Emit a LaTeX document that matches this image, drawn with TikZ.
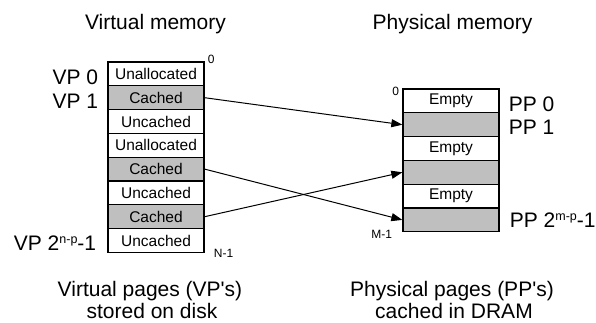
\documentclass[tikz,border=0pt]{standalone}
\usepackage{fontspec}
\setmainfont{Liberation Sans}
\usetikzlibrary{arrows.meta}
\newcommand\pgexp[1]{\raisebox{7pt}{\fontsize{12.5}{14}\selectfont #1}}

\begin{document}
\begin{tikzpicture}
	[%
	x=1pt, y=-1pt,%
	cell/.style  ={rectangle,	draw=black,	line width=1.3pt,	inner sep=0pt,	minimum width=96pt,	minimum height=23.8pt,	font=\fontsize{15.5}{18}\selectfont},%
	empty/.style ={cell,	fill=white},%
	full/.style  ={cell,	fill=black!25},%
	big/.style   ={inner sep=0pt,	font=\fontsize{21}{24}\selectfont},%
	small/.style ={inner sep=0pt,	font=\fontsize{12}{14}\selectfont},%
	map/.style   ={line width=1pt,	-{Triangle[length=11pt,width=8pt]}},%
	]

	\newcommand\vx{156}
	\newcommand\px{451}
	\newcommand\rh{23.8}

	\useasboundingbox (0,0) rectangle (596,322);

	% nodes
	\foreach \i/\t/\s in {0/Unallocated/empty, 1/Cached/full, 2/Uncached/empty, 3/Unallocated/empty, %
												4/Cached/full, 5/Uncached/empty, 6/Cached/full, 7/Uncached/empty}
		\node (v\i) at (\vx,62+\rh*\i+\rh/2) [\s] {\t};

	\foreach \i/\t/\s in {0/Empty/empty, 1//full, 2/Empty/empty, 3//full, 4/Empty/empty, 5//full}
		\node (p\i) at (\px,89+\rh*\i+\rh/2) [\s] {\t};

	% titles and captions
	\node (vtitle) at (155.5,29) [big, anchor=base] {Virtual memory};
	\node (ptitle) at (452.5,29) [big, anchor=base] {Physical memory};
	\node (vcap1) at (150,296) [big, anchor=base] {Virtual pages (VP\textquotesingle s)};
	\node (vcap2) at (152,318) [big, anchor=base] {stored on disk};
	\node (pcap1) at (452,296) [big, anchor=base] {Physical pages (PP\textquotesingle s)};
	\node (pcap2) at (454,318) [big, anchor=base] {cached in DRAM};

	% page labels
	\node (vp0) at ([xshift=-9pt, yshift=-11pt]v0.west) [big, anchor=base east] {VP 0};
	\node (vp1) at ([xshift=-9pt, yshift=-10.5pt]v1.west) [big, anchor=base east] {VP 1};
	\node (vpn) at ([xshift=-11pt, yshift=-9.5pt]v7.west) [big, anchor=base east] {VP 2\pgexp{n-p}-1};
	\node (pp0) at ([xshift=9pt, yshift=-11pt]p0.east) [big, anchor=base west] {PP 0};
	\node (pp1) at ([xshift=9pt, yshift=-9.5pt]p1.east) [big, anchor=base west] {PP 1};
	\node (ppm) at ([xshift=10pt, yshift=-7.5pt]p5.east) [big, anchor=base west] {PP 2\pgexp{m-p}-1};

	% addresses
	\node (vlo) at ([xshift=3pt, yshift=-2pt]v0.north east) [small, anchor=base west] {0};
	\node (vhi) at ([xshift=9pt, yshift=-4pt]v7.south east) [small, anchor=base west] {N-1};
	\node (plo) at ([xshift=-3pt, yshift=-7pt]p0.north west) [small, anchor=base east] {0};
	\node (phi) at ([xshift=-10pt, yshift=-6pt]p5.south west) [small, anchor=base east] {M-1};

	% mappings
	\foreach \v/\p in {1/1, 4/5, 6/3}
		\draw [map] (v\v.east) -- (p\p.west);

\end{tikzpicture}
\end{document}
